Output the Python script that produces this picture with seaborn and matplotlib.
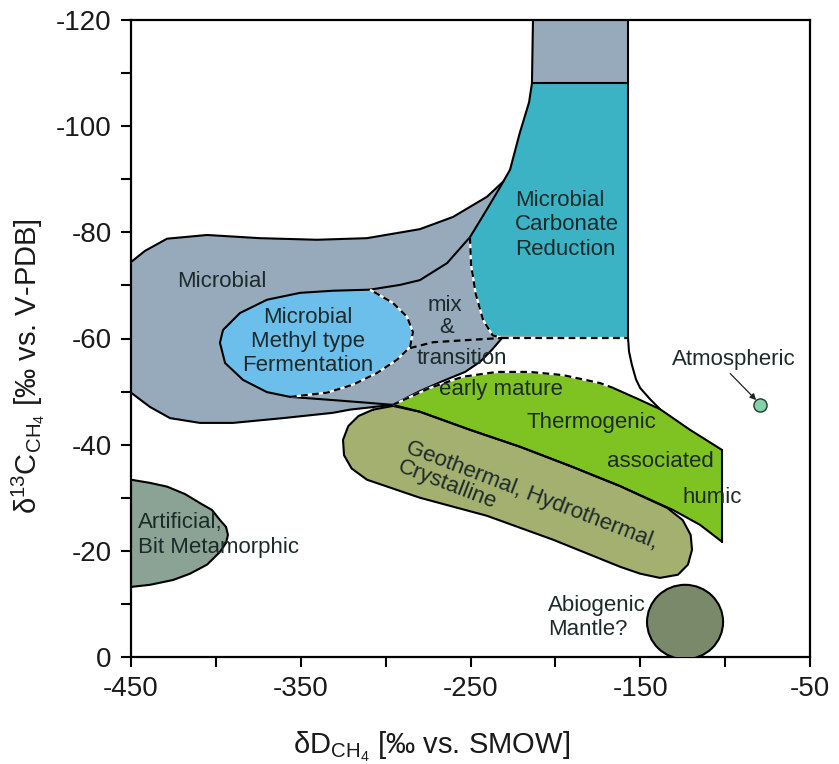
import numpy as np
import matplotlib
matplotlib.use("Agg")
import matplotlib.pyplot as plt
import seaborn as sns
from matplotlib.patches import Ellipse

sns.set_theme(style="white")
plt.rcParams["font.family"] = ["Liberation Sans", "DejaVu Sans"]
plt.rcParams["axes.unicode_minus"] = False
plt.rcParams["mathtext.fontset"] = "custom"
plt.rcParams["mathtext.rm"] = "Liberation Sans"
plt.rcParams["mathtext.it"] = "Liberation Sans:italic"

# ---------------- data: field boundaries (dD, d13C) ----------------
microbial_top = [(-450, -74.4), (-441.8, -76.5), (-428.8, -78.8), (-405.2, -79.5), (-374, -78.9),
                 (-340.4, -78.6), (-311, -78.9), (-279.8, -80.6), (-260.3, -82.9), (-240.3, -86.7),
                 (-230.6, -89.6)]
lobe_curve = [(-309.2, -69.2), (-291.5, -70.1), (-279.8, -71.0), (-263.8, -74.2), (-250.3, -79.1),
              (-240, -84.5), (-233.5, -88.0), (-226.7, -91.8), (-221, -98.7), (-215.5, -104.5),
              (-213.8, -108.1), (-213.2, -120)]
column_right = [(-157.2, -120), (-157.2, -60.1)]
column_bottom = [(-213.8, -108.1), (-157.2, -108.1)]
teal_bottom = [(-231.4, -60.1), (-157.2, -60.1)]
teal_left = [(-250.3, -79.1), (-249.7, -74.0), (-247, -68.5), (-242.6, -63.5), (-237, -60.6),
             (-231.4, -60.1)]
transition_edge = [(-231.4, -60.1), (-237.3, -57.9), (-244.4, -55.6), (-253.2, -53.7), (-266.2, -52.0),
                   (-279.8, -50.1), (-295.7, -47.5)]
microbial_bottom = [(-295.7, -47.5), (-321, -46.6), (-331, -46.0), (-360.5, -45.0), (-389.9, -44.1),
                    (-409.4, -44.1), (-427, -45.0), (-438.8, -47.1), (-450, -49.8)]
methyl_solid = [(-309.2, -69.2), (-331, -69.0), (-350.4, -68.6), (-369.9, -67.3), (-385.8, -64.8),
                (-395.8, -61.6), (-397.6, -59.2), (-394.6, -55.4), (-384, -52.2), (-369.9, -49.9),
                (-356.3, -49.0)]
methyl_dashed = [(-356.3, -49.0), (-334.5, -49.8), (-319.2, -51.3), (-305.1, -53.5), (-293.3, -56.0),
                 (-285.6, -58.4), (-283.9, -61.2), (-287.4, -64.1), (-295.7, -66.7), (-309.2, -69.2)]
under_methyl = [(-356.3, -49.0), (-331, -48.4), (-311, -47.9), (-295.7, -47.5)]
mix_line = [(-285.6, -58.2), (-272, -59.3), (-252, -59.7), (-231.4, -60.1)]
thermo_top_dashed = [(-295.7, -47.5), (-273.9, -50.7), (-254.4, -52.8), (-234.4, -53.7), (-215, -53.7),
                     (-195.5, -53.1), (-173.7, -51.6), (-166.1, -50.7)]
thermo_top_solid = [(-166.1, -50.7), (-152, -48.7), (-138.4, -46.7), (-120.7, -42.8), (-101.8, -39.0)]
thermo_right = [(-101.8, -39.0), (-101.8, -21.7)]
thermo_bottom = [(-101.8, -21.7), (-114.8, -24.9), (-130.7, -27.7), (-161.9, -32.2), (-191.4, -36.0),
                 (-220.8, -39.6), (-250.3, -42.8), (-279.8, -46.2), (-295.7, -47.5)]
thermo_envelope = [(-157.2, -60.1), (-156.6, -57.5), (-154.9, -55.0), (-152.5, -52.3), (-150.1, -50.7),
                   (-144.3, -48.6), (-138.4, -46.7)]
geothermal = [(-307.4, -46.6), (-295.7, -47.3), (-279.8, -46.2), (-250.3, -42.8), (-220.8, -39.6),
              (-191.4, -36.0), (-161.9, -32.2), (-134.2, -28.1), (-125, -25.8), (-120.3, -23.0),
              (-119.5, -20.2), (-121.9, -17.4), (-127.8, -15.5), (-138.4, -14.9), (-150.1, -15.7),
              (-161.9, -17.0), (-201.4, -22.1), (-240.3, -26.6), (-279.8, -30.0), (-311, -33.4),
              (-320, -35.5), (-324.5, -38.0), (-325.1, -40.9), (-322, -43.5), (-316, -45.4)]
artificial = [(-450, -33.4), (-438.8, -32.8), (-428.8, -32.1), (-418.2, -30.7), (-409.4, -29.0),
              (-402.3, -27.7), (-397.6, -25.8), (-394, -24.5), (-392.9, -23.0), (-394, -21.5),
              (-397.6, -19.8), (-405.2, -17.4), (-415.2, -15.7), (-425.3, -14.5), (-438.8, -13.6),
              (-450, -13.2)]
abiogenic_center = (-123.6, -6.6)
abiogenic_radius = (22.4, 7.0)
atmospheric_point = (-79.5, -47.5)

labels = ["Microbial", "Microbial\nMethyl type\nFermentation", "Microbial\nCarbonate\nReduction",
          "mix", "&", "transition", "early mature", "Thermogenic", "associated", "humic",
          "Artificial,\nBit Metamorphic", "Abiogenic\nMantle?", "Atmospheric"]
label_dD = [-396.5, -345.7, -223.8, -265, -263.8, -255, -232, -179, -138.4, -107.7, -446, -204.3, -94.8]
label_d13C = [-70.7, -59.4, -81.4, -66.3, -62.0, -56.3, -50.3, -44.1, -36.8, -30.0, -23.0, -7.4, -56.0]
label_ha = ["center", "center", "left", "center", "center", "center", "center", "center", "center",
            "center", "left", "left", "center"]

x_major = [-450, -350, -250, -150, -50]
x_minor = [-400, -300, -200, -100]
y_major = [-120, -100, -80, -60, -40, -20, 0]
y_minor = [-110, -90, -70, -50, -30, -10]

# ---------------- colours ----------------
c_grey = "#97aabc"
c_teal = "#3bb3c5"
c_methyl = "#6dbfeb"
c_thermo = "#7ec322"
c_geo = "#a3b06f"
c_art = "#8aa394"
c_abio = "#7a896a"
c_atm = "#84d0a8"
c_text = "#1d2a2a"

fig = plt.figure(figsize=(8.39, 7.64), dpi=100)
ax = fig.add_axes([131 / 839, 1 - 657 / 764, 679 / 839, 637 / 764])


def xy(pts):
    a = np.asarray(pts, dtype=float)
    return a[:, 0], a[:, 1]


def fill(pts, color):
    x, y = xy(pts)
    ax.fill(x, y, color=color, lw=0, zorder=1)


def solid(pts):
    x, y = xy(pts)
    sns.lineplot(x=x, y=y, sort=False, estimator=None, color="black", lw=1.5, ax=ax, zorder=5)


def dashed_bw(pts):
    x, y = xy(pts)
    ax.plot(x, y, color="white", lw=1.6, zorder=5, solid_capstyle="butt")
    ax.plot(x, y, color="black", lw=1.6, ls=(0, (3, 2)), zorder=6, dash_capstyle="butt")


def dashed_b(pts):
    x, y = xy(pts)
    ax.plot(x, y, color="black", lw=1.6, ls=(0, (3, 2)), zorder=6, dash_capstyle="butt")


# fills
lobe_upper = [p for p in lobe_curve if p[1] < -89.6]
grey_poly = microbial_top + lobe_upper + column_right + transition_edge + microbial_bottom[1:]
fill(grey_poly, c_grey)
teal_poly = column_bottom + [(-157.2, -60.1)] + teal_left[::-1][1:] + \
    [p for p in lobe_curve if -108.2 < p[1] < -79.2]
fill(teal_poly, c_teal)
fill(methyl_solid + methyl_dashed[1:], c_methyl)
fill(thermo_top_dashed + thermo_top_solid[1:] + thermo_right[1:] + thermo_bottom[1:], c_thermo)
fill(geothermal, c_geo)
fill(artificial, c_art)
ax.add_patch(Ellipse(abiogenic_center, 2 * abiogenic_radius[0], 2 * abiogenic_radius[1],
                     facecolor=c_abio, edgecolor="black", lw=1.5, zorder=4))

# boundaries
solid(microbial_top)
solid(lobe_curve)
solid(column_right)
solid(column_bottom)
solid(transition_edge)
solid(microbial_bottom)
solid(methyl_solid)
solid(under_methyl)
solid(thermo_top_solid)
solid(thermo_right)
solid(thermo_bottom)
solid(thermo_envelope)
solid(geothermal + geothermal[:1])
solid(artificial)
dashed_bw(teal_bottom)
dashed_bw(teal_left)
dashed_bw(methyl_dashed)
dashed_bw(thermo_top_dashed)
dashed_b(mix_line)

# atmospheric point + arrow
sns.scatterplot(x=[atmospheric_point[0]], y=[atmospheric_point[1]], s=90, color=c_atm,
                edgecolor="#1f3b2f", linewidth=1.0, ax=ax, zorder=7)
ax.annotate("", xy=(atmospheric_point[0] - 2.2, atmospheric_point[1] - 0.9), xytext=(-97.0, -53.4),
            arrowprops=dict(arrowstyle="-|>", color="#222222", lw=0.9, mutation_scale=9,
                            shrinkA=0, shrinkB=0), zorder=7)

# labels
for t, lx, ly, ha in zip(labels, label_dD, label_d13C, label_ha):
    ax.text(lx, ly, t, ha=ha, va="center", multialignment=ha,
            fontsize=16, color=c_text, linespacing=1.2, zorder=8)
ax.text(-288.6, -38.6, "Geothermal, Hydrothermal,", rotation=-21, rotation_mode="anchor",
        ha="left", va="baseline", fontsize=16, color=c_text, zorder=8)
ax.text(-293.3, -34.9, "Crystalline", rotation=-21, rotation_mode="anchor",
        ha="left", va="baseline", fontsize=16, color=c_text, zorder=8)

# axes
ax.set_xlim(-450, -50)
ax.set_ylim(0, -120)
ax.set_xticks(x_major)
ax.set_xticks(x_minor, minor=True)
ax.set_yticks(y_major)
ax.set_yticks(y_minor, minor=True)
ax.set_xticklabels([str(v) for v in x_major])
ax.set_yticklabels([str(v) for v in y_major])
ax.tick_params(which="both", direction="out", length=7, width=1.5, color="black",
               bottom=True, left=True, top=False, right=False)
ax.tick_params(which="major", labelsize=20, pad=7, labelcolor="#1a1a1a")
for s in ax.spines.values():
    s.set_visible(True)
    s.set_color("black")
    s.set_linewidth(1.6)
ax.set_facecolor("white")
ax.grid(False)
ax.set_xlabel(r"$\mathregular{\delta D_{CH_4}}$ [‰ vs. SMOW]", fontsize=21, color="#1a1a1a")
ax.set_ylabel(r"$\mathregular{\delta^{13}C_{CH_4}}$ [‰ vs. V-PDB]", fontsize=21, color="#1a1a1a")
ax.xaxis.set_label_coords(0.443, -0.115)
ax.yaxis.set_label_coords(-0.123, 0.457)
if ax.get_legend():
    ax.get_legend().remove()

fig.savefig("out.png", dpi=100, facecolor="white")
